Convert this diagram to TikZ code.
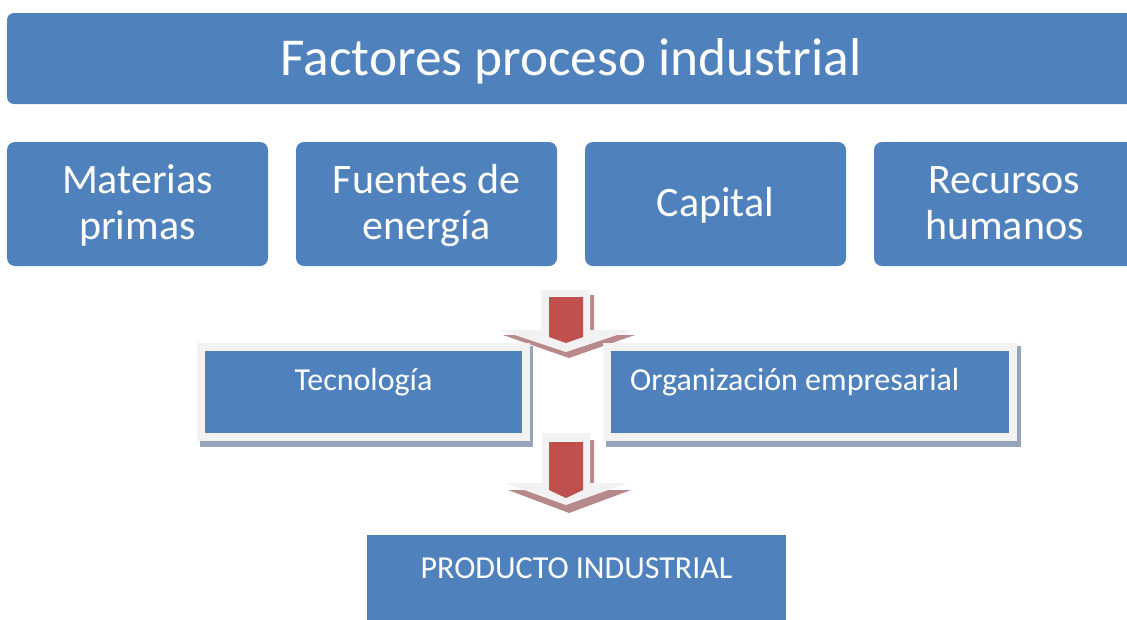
\documentclass[tikz,border=0pt]{standalone}
\usepackage{fontspec}
\setmainfont{Carlito}
\definecolor{boxblue}{HTML}{4F81BD}
\definecolor{arrred}{HTML}{C0504D}
\definecolor{pale}{HTML}{F2F2F2}
\definecolor{boxshadow}{HTML}{97A5BA}
\definecolor{arrshadow}{HTML}{B8898A}
\begin{document}
\begin{tikzpicture}[x=1pt,y=-1pt,
  topbox/.style={fill=boxblue, rounded corners=8pt, inner sep=0pt, minimum width=261pt, minimum height=124pt},
  bigtext/.style={text=white, font=\fontsize{42}{46}\selectfont, align=center, inner sep=0pt},
  midbox/.style={fill=boxblue, draw=pale, line width=8pt, inner sep=0pt, minimum height=90pt},
  midtext/.style={text=white, font=\fontsize{32}{38}\selectfont, inner sep=0pt, anchor=base},
  bshadow/.style={fill=boxshadow},
  ashadow/.style={fill=arrshadow},
  apale/.style={fill=pale},
  ared/.style={fill=arrred}]
\useasboundingbox (0,0) rectangle (1127,619);
\clip (0,0) rectangle (1127,619);

% title
\node[fill=boxblue, rounded corners=7pt, inner sep=0pt, minimum width=1128pt, minimum height=91pt] (title) at (571,58.5) {};
\node[text=white, font=\fontsize{53.3}{60}\selectfont, inner sep=0pt, anchor=base] (titleT) at (571,75) {Factores proceso industrial};

% four boxes
\node[topbox] (mp) at (137.5,204) {};
\node[topbox] (fe) at (426.5,204) {};
\node[topbox] (ca) at (715.5,204) {};
\node[topbox] (rh) at (1004.5,204) {};
\node[bigtext] (mpT) at (137.5,207) {\strut Materias\\\strut primas};
\node[bigtext] (feT) at (426.5,207) {\strut Fuentes de\\\strut energía};
\node[bigtext] (caT) at (715.5,207) {\strut Capital};
\node[bigtext] (rhT) at (1004.5,207) {\strut Recursos\\\strut humanos};

% arrow 1
\fill[ashadow] (544,295) -- (594,295) -- (594,335) -- (635,335) -- (569,358) -- (503,335) -- (544,335) -- cycle;
\fill[apale] (541,290) -- (590,290) -- (590,330) -- (632,330) -- (566,352) -- (500,330) -- (541,330) -- cycle;
\fill[ared] (549,297) -- (583,297) -- (583,337) -- (566,343) -- (549,337) -- cycle;

% middle boxes
\fill[bshadow] (200,346) rectangle (533,447);
\fill[bshadow] (606,346) rectangle (1021,447);
\node[midbox, minimum width=325pt] (te) at (363.5,392) {};
\node[midbox, minimum width=406pt] (oe) at (810,392) {};
\node[midtext] (teT) at (363.5,390) {Tecnología};
\node[midtext, anchor=base west] (oeT) at (630,390) {Organización empresarial};

% arrow 2
\fill[ashadow] (545,440) -- (594,440) -- (594,490) -- (631,490) -- (569,513) -- (508,490) -- (545,490) -- cycle;
\fill[apale] (542,433) -- (590,433) -- (590,483) -- (628,483) -- (566,505) -- (505,483) -- (542,483) -- cycle;
\fill[ared] (549,442) -- (583,442) -- (583,490) -- (566,498) -- (549,490) -- cycle;

% product
\node[fill=boxblue, inner sep=0pt, minimum width=419pt, minimum height=100pt] (pi) at (576.5,585) {};
\node[midtext] (piT) at (576.5,578) {PRODUCTO INDUSTRIAL};
\end{tikzpicture}
\end{document}
